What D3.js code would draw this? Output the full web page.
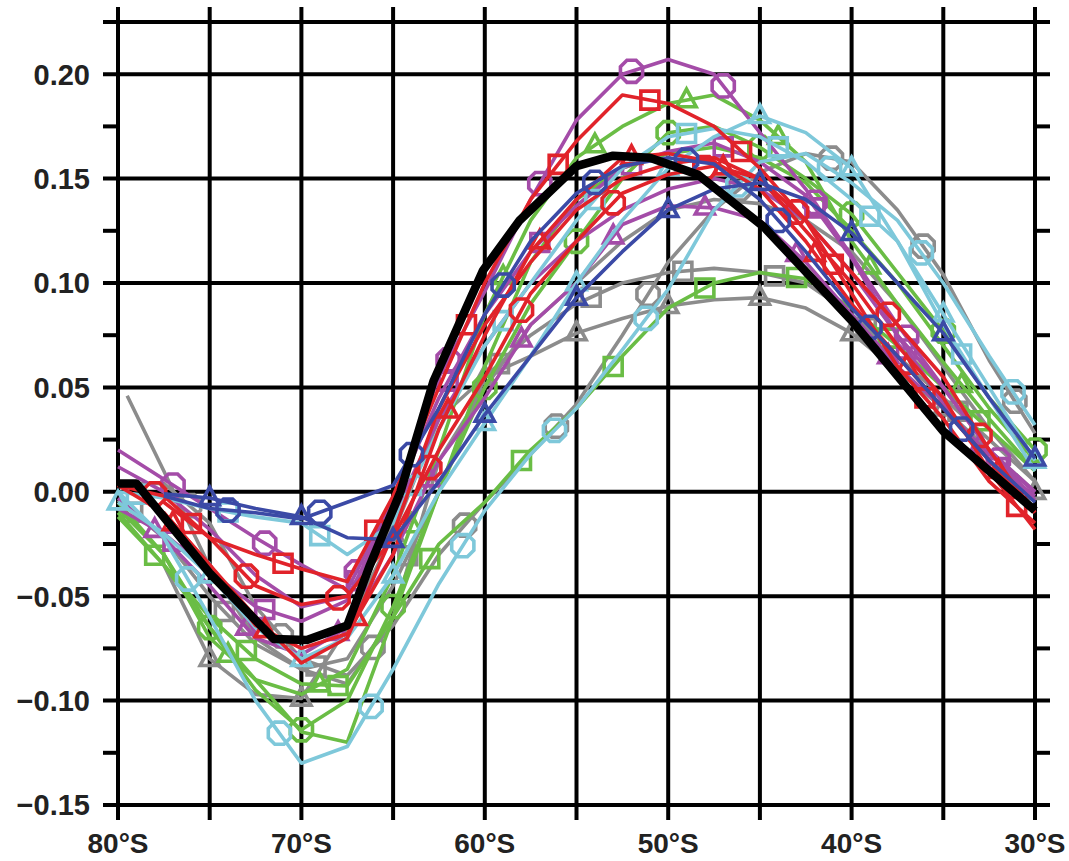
<!DOCTYPE html>
<html><head><meta charset="utf-8">
<script src="https://cdn.jsdelivr.net/npm/d3@7"></script>
<style>body{margin:0;background:#fff}svg{display:block}</style>
</head><body><svg id="c" width="1069" height="861"></svg>
<script>
// ---------- data ----------
const lats = [80,77.5,75,72.5,70,67.5,65,62.5,60,57.5,55,52.5,50,47.5,45,42.5,40,37.5,35,32.5,30];
const latsLate = [79.5,77.5,75,72.5,70,67.5,65,62.5,60,57.5,55,52.5,50,47.5,45,42.5,40,37.5,35,32.5,30];
const xTickLabels = ["80°S","70°S","60°S","50°S","40°S","30°S"];
const xTickValues = [80,70,60,50,40,30];
const yTickValues = [0.20,0.15,0.10,0.05,0.00,-0.05,-0.10,-0.15];
const yTickLabels = ["0.20","0.15","0.10","0.05","0.00","\u22120.05","\u22120.10","\u22120.15"];

const grayCircle   = [0.004,0.004,-0.015,-0.055,-0.08,-0.088,-0.064,-0.03,-0.005,0.018,0.042,0.075,0.11,0.135,0.153,0.162,0.158,0.135,0.104,0.063,0.028];
const graySquare   = [-0.004,-0.022,-0.05,-0.073,-0.085,-0.08,-0.045,0.0,0.055,0.075,0.09,0.1,0.105,0.107,0.105,0.1,0.085,0.065,0.045,0.025,0.005];
const grayTriangle = [null,-0.035,-0.08,-0.097,-0.099,-0.065,-0.02,0.035,0.055,0.065,0.076,0.083,0.089,0.092,0.093,0.088,0.076,0.058,0.04,0.02,0.0];
const grayPlain    = [0.046,0.01,-0.036,-0.07,-0.085,-0.092,-0.06,0.015,0.05,0.08,0.1,0.12,0.135,0.14,0.138,0.13,0.115,0.09,0.06,0.03,0.005];
const greenTriangle= [-0.008,-0.03,-0.07,-0.09,-0.097,-0.085,-0.04,0.02,0.085,0.13,0.16,0.175,0.186,0.19,0.178,0.158,0.12,0.09,0.062,0.035,0.01];
const greenCircle  = [-0.01,-0.035,-0.065,-0.095,-0.114,-0.1,-0.055,0.0,0.05,0.09,0.12,0.15,0.172,0.175,0.165,0.15,0.133,0.105,0.077,0.045,0.02];
const greenSquare  = [-0.012,-0.035,-0.06,-0.08,-0.092,-0.093,-0.06,-0.025,-0.005,0.02,0.04,0.065,0.088,0.1,0.105,0.102,0.088,0.07,0.05,0.03,0.01];
const greenPlain   = [-0.005,-0.03,-0.065,-0.09,-0.115,-0.12,-0.06,0.0,0.06,0.11,0.14,0.155,0.162,0.165,0.16,0.148,0.125,0.1,0.07,0.04,0.015];
const cyanCircle   = [0.0,-0.022,-0.06,-0.1,-0.13,-0.122,-0.085,-0.044,-0.009,0.018,0.04,0.068,0.097,0.135,0.158,0.162,0.148,0.13,0.1,0.065,0.032];
const cyanSquare   = [0.0,-0.003,-0.008,-0.012,-0.015,-0.03,-0.015,0.03,0.07,0.1,0.13,0.155,0.17,0.174,0.17,0.158,0.14,0.12,0.08,0.045,0.01];
const cyanTriangle = [-0.005,-0.02,-0.04,-0.065,-0.08,-0.07,-0.04,0.0,0.033,0.065,0.1,0.13,0.155,0.17,0.18,0.172,0.155,0.12,0.085,0.05,0.015];
const blueCircle   = [null,-0.002,-0.008,-0.01,-0.013,-0.005,0.003,0.04,0.085,0.12,0.143,0.156,0.16,0.157,0.14,0.115,0.088,0.065,0.04,0.015,-0.005];
const blueTriangle = [null,-0.001,-0.003,-0.008,-0.012,-0.022,-0.023,0.005,0.037,0.065,0.093,0.115,0.135,0.145,0.148,0.14,0.124,0.1,0.076,0.045,0.016];
const redSquare    = [null,-0.005,-0.022,-0.03,-0.037,-0.043,-0.002,0.05,0.1,0.14,0.168,0.19,0.186,0.175,0.155,0.13,0.095,0.06,0.035,0.005,-0.015];
const redCircle    = [0.003,-0.002,-0.022,-0.045,-0.054,-0.05,-0.022,0.02,0.055,0.095,0.12,0.143,0.152,0.156,0.15,0.13,0.105,0.08,0.055,0.02,-0.01];
const redTriangle  = [null,-0.01,-0.035,-0.064,-0.075,-0.068,-0.03,0.03,0.075,0.115,0.14,0.16,0.162,0.158,0.145,0.12,0.09,0.065,0.04,0.015,-0.01];
const redPlain     = [0.003,-0.01,-0.035,-0.06,-0.082,-0.07,-0.02,0.04,0.08,0.11,0.135,0.15,0.157,0.16,0.15,0.125,0.1,0.07,0.045,0.01,-0.018];
const purpleCircle = [0.02,0.006,-0.008,-0.022,-0.035,-0.047,-0.004,0.055,0.096,0.14,0.178,0.2,0.207,0.2,0.172,0.145,0.113,0.08,0.05,0.02,-0.004];
const purpleSquare = [-0.008,-0.02,-0.038,-0.055,-0.062,-0.052,-0.005,0.045,0.085,0.115,0.137,0.155,0.163,0.167,0.158,0.142,0.112,0.075,0.042,0.015,-0.002];
const purpleTriangle=[-0.003,-0.022,-0.045,-0.07,-0.078,-0.065,-0.03,0.015,0.045,0.08,0.1,0.128,0.137,0.136,0.13,0.11,0.085,0.06,0.04,0.018,0.0];
const purplePlain  = [0.012,0.0,-0.018,-0.04,-0.055,-0.05,-0.012,0.035,0.07,0.1,0.12,0.135,0.145,0.15,0.145,0.13,0.105,0.075,0.05,0.02,0.0];

const obsLats = [80,79,75,71.5,69.7,67.5,66.3,64.6,62.8,60.1,58.1,55,53,51,48.4,44.8,40,35,30];
const obsVals = [0.004,0.004,-0.039,-0.0705,-0.071,-0.064,-0.036,0.0,0.053,0.106,0.13,0.156,0.161,0.16,0.152,0.127,0.082,0.029,-0.009];

const C = {gray:"#8c8c8c", green:"#6abd45", cyan:"#7ec8da", blue:"#3b4aa6", red:"#e1232a", purple:"#a44ca8"};

const series = [
  {lat:latsLate, v:grayPlain,    color:C.gray,   mk:null},
  {lat:lats, v:graySquare,       color:C.gray,   mk:"square",   m0:79.2},
  {lat:lats, v:grayTriangle,     color:C.gray,   mk:"triangle", m0:75},
  {lat:lats, v:grayCircle,       color:C.gray,   mk:"hex",      m0:76.1},
  {lat:lats, v:greenPlain,       color:C.green,  mk:null},
  {lat:lats, v:greenSquare,      color:C.green,  mk:"square",   m0:78},
  {lat:lats, v:greenTriangle,    color:C.green,  mk:"triangle", m0:74},
  {lat:lats, v:greenCircle,      color:C.green,  mk:"hex",      m0:75},
  {lat:lats, v:purplePlain,      color:C.purple, mk:null},
  {lat:lats, v:purpleSquare,     color:C.purple, mk:"square",   m0:77},
  {lat:lats, v:purpleTriangle,   color:C.purple, mk:"triangle", m0:78},
  {lat:lats, v:purpleCircle,     color:C.purple, mk:"hex",      m0:77},
  {lat:lats, v:cyanSquare,       color:C.cyan,   mk:"square",   m0:79},
  {lat:lats, v:cyanTriangle,     color:C.cyan,   mk:"triangle", m0:80},
  {lat:lats, v:cyanCircle,       color:C.cyan,   mk:"hex",      m0:76.2},
  {lat:lats, v:redPlain,         color:C.red,    mk:null},
  {lat:lats, v:redSquare,        color:C.red,    mk:"square",   m0:76},
  {lat:lats, v:redTriangle,      color:C.red,    mk:"triangle", m0:77},
  {lat:lats, v:redCircle,        color:C.red,    mk:"hex",      m0:78},
  {lat:lats, v:blueTriangle,     color:C.blue,   mk:"triangle", m0:75},
  {lat:lats, v:blueCircle,       color:C.blue,   mk:"hex",      m0:74}
];

// ---------- chart ----------
const svg = d3.select("#c");
const x = d3.scaleLinear().domain([80,30]).range([118,1035]);
const y = d3.scaleLinear().domain([-0.15,0.225]).range([805,22]);
const ext = 15;

const grid = svg.append("g").attr("stroke","#000").attr("stroke-width",4);
d3.range(80,29,-5).forEach(l=>{
  grid.append("line").attr("x1",x(l)).attr("x2",x(l)).attr("y1",y(0.225)-ext).attr("y2",y(-0.15)+ext);
});
[0.225,0.20,0.15,0.10,0.05,0,-0.05,-0.10,-0.15].forEach(v=>{
  grid.append("line").attr("x1",x(80)-ext).attr("x2",x(30)+ext).attr("y1",y(v)).attr("y2",y(v));
});
[0.175,0.125,0.075,0.025,-0.025,-0.075,-0.125].forEach(v=>{
  grid.append("line").attr("x1",x(80)-ext).attr("x2",x(80)).attr("y1",y(v)).attr("y2",y(v));
  grid.append("line").attr("x1",x(30)).attr("x2",x(30)+ext).attr("y1",y(v)).attr("y2",y(v));
});

const font = "'Liberation Sans', Arial, sans-serif";
svg.append("g").selectAll("text").data(yTickValues).join("text")
  .attr("x",90).attr("y",d=>y(d)).attr("dy","0.36em").attr("text-anchor","end")
  .attr("font-family",font).attr("font-weight","bold").attr("font-size",29).attr("fill","#222")
  .text((d,i)=>yTickLabels[i]);
svg.append("g").selectAll("text").data(xTickValues).join("text")
  .attr("x",d=>x(d)).attr("y",853).attr("text-anchor","middle")
  .attr("font-family",font).attr("font-weight","bold").attr("font-size",28).attr("fill","#222")
  .text((d,i)=>xTickLabels[i]);

const line = d3.line().defined(d=>d[1]!=null).x(d=>x(d[0])).y(d=>y(d[1]));
function interp(lat, ls, vs){
  for(let i=0;i<ls.length-1;i++){
    const a=ls[i], b=ls[i+1];
    if(lat<=a && lat>=b && vs[i]!=null && vs[i+1]!=null){
      const t=(a-lat)/(a-b); return vs[i]+t*(vs[i+1]-vs[i]);
    }
  }
  return null;
}
function markerPath(type, cx, cy){
  if(type==="square"){const s=9;return `M${cx-s},${cy-s}H${cx+s}V${cy+s}H${cx-s}Z`;}
  if(type==="triangle"){const r=11;return `M${cx},${cy-r}L${cx+r*0.87},${cy+r*0.6}L${cx-r*0.87},${cy+r*0.6}Z`;}
  const r=12; let p="";
  for(let k=0;k<8;k++){const a=Math.PI/8+k*Math.PI/4;p+=(k?"L":"M")+(cx+r*Math.cos(a))+","+(cy+r*Math.sin(a));}
  return p+"Z";
}
const gS = svg.append("g");
series.forEach(s=>{
  const pts = s.lat.map((l,i)=>[l,s.v[i]]);
  const g = gS.append("g");
  g.append("path").attr("d",line(pts)).attr("fill","none").attr("stroke",s.color)
    .attr("stroke-width",3.6).attr("stroke-linejoin","round");
  if(s.mk){
    for(let l=s.m0;l>=30;l-=5){
      const v=interp(l,s.lat,s.v); if(v==null) continue;
      g.append("path").attr("d",markerPath(s.mk,x(l),y(v))).attr("fill","none")
        .attr("stroke",s.color).attr("stroke-width",3.6).attr("stroke-linejoin","miter");
    }
  }
});
svg.append("path").attr("d",line(obsLats.map((l,i)=>[l,obsVals[i]])))
  .attr("fill","none").attr("stroke","#000").attr("stroke-width",8.5).attr("stroke-linejoin","round");
</script></body></html>
